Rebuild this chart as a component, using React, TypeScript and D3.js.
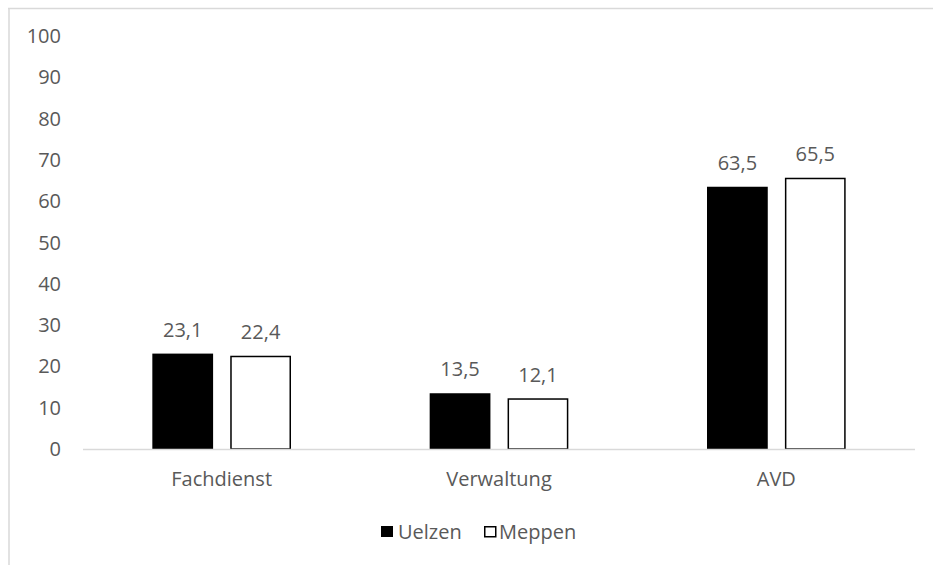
import React from "react";
import * as d3 from "d3";

// Data
const categories = ["Fachdienst", "Verwaltung", "AVD"];
const seriesNames = ["Uelzen", "Meppen"];
const uelzen = [23.1, 13.5, 63.5];
const meppen = [22.4, 12.1, 65.5];
const yTicks = [0, 10, 20, 30, 40, 50, 60, 70, 80, 90, 100];

const W = 933;
const H = 565;
const FONT = "'Open Sans', 'Noto Sans', sans-serif";
const FS = 20;
const TEXT = "#595959";
const AXIS = "#d9d9d9";

const seriesValues: Record<string, number[]> = { Uelzen: uelzen, Meppen: meppen };
const seriesFill: Record<string, string> = { Uelzen: "#000000", Meppen: "#ffffff" };

const fmt = (v: number) => v.toFixed(1).replace(".", ",");

export default function App() {
  const x0 = d3
    .scaleBand<string>()
    .domain(categories)
    .range([83, 915])
    .paddingInner(0.5)
    .paddingOuter(0.25);
  const x1 = d3
    .scaleBand<string>()
    .domain(seriesNames)
    .range([0, x0.bandwidth()])
    .paddingInner(0.22);
  const y = d3.scaleLinear().domain([0, 100]).range([449, 36]);

  return (
    <svg
      width={W}
      height={H}
      style={{ position: "fixed", left: 0, top: 0, background: "#fff" }}
      fontFamily={FONT}
    >
      <rect x={0} y={0} width={W} height={H} fill="#fff" />
      {/* chart frame */}
      <line x1={8} y1={8.5} x2={W} y2={8.5} stroke={AXIS} strokeWidth={1.5} />
      <line x1={9} y1={8} x2={9} y2={H} stroke={AXIS} strokeWidth={1.5} />

      {/* y tick labels */}
      {yTicks.map((t) => (
        <text
          key={t}
          x={61}
          y={y(t)}
          dy="0.35em"
          textAnchor="end"
          fontSize={FS}
          fill={TEXT}
        >
          {t}
        </text>
      ))}

      {/* bars */}
      {categories.map((c, i) => (
        <g key={c} transform={`translate(${x0(c)},0)`}>
          {seriesNames.map((s) => {
            const v = seriesValues[s][i];
            const bx = x1(s)!;
            const bw = x1.bandwidth();
            const isWhite = s === "Meppen";
            return (
              <g key={s}>
                <rect
                  x={isWhite ? bx + 0.75 : bx}
                  y={y(v)}
                  width={isWhite ? bw - 1.5 : bw}
                  height={y(0) - y(v)}
                  fill={seriesFill[s]}
                  stroke={isWhite ? "#000" : "none"}
                  strokeWidth={1.5}
                />
                <text
                  x={bx + bw / 2}
                  y={y(v) - 24}
                  dy="0.35em"
                  textAnchor="middle"
                  fontSize={FS}
                  fill={TEXT}
                >
                  {fmt(v)}
                </text>
              </g>
            );
          })}
        </g>
      ))}

      {/* baseline */}
      <line x1={83} y1={449.5} x2={915} y2={449.5} stroke={AXIS} strokeWidth={1.5} />

      {/* category labels */}
      {categories.map((c) => (
        <text
          key={c}
          x={x0(c)! + x0.bandwidth() / 2}
          y={479}
          dy="0.35em"
          textAnchor="middle"
          fontSize={FS}
          fill={TEXT}
        >
          {c}
        </text>
      ))}

      {/* legend */}
      <g>
        <rect x={381} y={526} width={12} height={11} fill="#000" />
        <text x={398} y={531.5} dy="0.35em" fontSize={FS} fill={TEXT}>
          {seriesNames[0]}
        </text>
        <rect x={484.75} y={526.75} width={11} height={10} fill="#fff" stroke="#000" strokeWidth={1.5} />
        <text x={499} y={531.5} dy="0.35em" fontSize={FS} fill={TEXT}>
          {seriesNames[1]}
        </text>
      </g>
    </svg>
  );
}
